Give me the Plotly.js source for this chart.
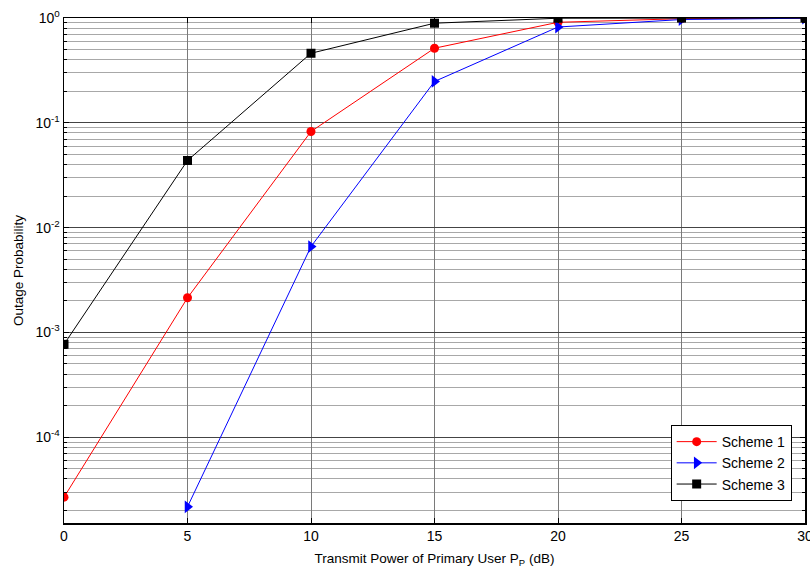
<!DOCTYPE html>
<html>
<head>
<meta charset="utf-8">
<script src="https://cdn.plot.ly/plotly-3.0.1.min.js"></script>
<style>html,body{margin:0;padding:0;background:#fff;}#chart{width:810px;height:574px;}</style>
</head>
<body>
<div id="chart"></div>
<script>
const xPower = [0, 5, 10, 15, 20, 25, 30];
const scheme1 = [2.68e-5, 2.14e-3, 0.0826, 0.515, 0.91, 0.985, 0.998];
const scheme2 = [null, 2.17e-5, 6.6e-3, 0.248, 0.82, 0.967, 0.995];
const scheme3 = [7.7e-4, 0.0437, 0.461, 0.892, 0.995, 0.999, 1.0];
const seriesNames = ['Scheme 1', 'Scheme 2', 'Scheme 3'];
const xTicks = [0, 5, 10, 15, 20, 25, 30];
const yDecades = [-5, -4, -3, -2, -1, 0];

const majorVals = yDecades.map(d => Math.pow(10, d));
const majorText = yDecades.map(d => '10<sup>' + d + '</sup>');
const minorVals = [];
yDecades.forEach(d => { for (let m = 2; m <= 9; m++) minorVals.push(m * Math.pow(10, d)); });

const fam = 'Liberation Sans, Arial, sans-serif';
const titleFont = {family: fam, size: 13.5, color: '#000'};
const tickFont = {family: fam, size: 14, color: '#000'};

const traces = [
  {x: xPower, y: scheme1, name: seriesNames[0], mode: 'lines+markers',
   line: {color: '#ff0000', width: 1}, marker: {symbol: 'circle', size: 9, color: '#ff0000'}},
  {x: xPower, y: scheme2, name: seriesNames[1], mode: 'lines+markers',
   line: {color: '#0000ff', width: 1}, marker: {symbol: 'triangle-right', size: 11, color: '#0000ff'}},
  {x: xPower, y: scheme3, name: seriesNames[2], mode: 'lines+markers',
   line: {color: '#000000', width: 1}, marker: {symbol: 'square', size: 9, color: '#000000'}}
];

const layout = {
  width: 810, height: 574,
  margin: {l: 64, r: 5, t: 17.5, b: 51.3, pad: 0},
  paper_bgcolor: '#fff', plot_bgcolor: '#fff',
  font: titleFont,
  showlegend: true,
  legend: {x: 0.982, y: 0.0435, xanchor: 'right', yanchor: 'bottom',
    bgcolor: '#fff', bordercolor: '#000', borderwidth: 1,
    font: {family: fam, size: 14, color: '#000'},
    tracegroupgap: 0, itemwidth: 40},
  xaxis: {
    range: [0, 30], tickvals: xTicks, ticktext: xTicks.map(String),
    showline: true, linecolor: '#000', linewidth: 1.5, mirror: 'allticks',
    ticks: 'inside', ticklen: 5, tickcolor: '#000',
    showgrid: true, gridcolor: '#7a7a7a', gridwidth: 1,
    zeroline: false, ticklabeloverflow: 'allow',
    tickfont: tickFont,
    title: {text: 'Transmit Power of Primary User P<sub>P</sub> (dB)', font: titleFont, standoff: 10}
  },
  yaxis: {
    type: 'log', range: [Math.log10(1.52e-5), 0],
    tickvals: majorVals, ticktext: majorText,
    showline: true, linecolor: '#000', linewidth: 1.5, mirror: 'allticks',
    ticks: 'inside', ticklen: 5, tickcolor: '#000',
    showgrid: true, gridcolor: '#444', gridwidth: 1,
    zeroline: false, ticklabeloverflow: 'allow',
    tickfont: tickFont,
    minor: {tickvals: minorVals, ticks: 'inside', ticklen: 3, tickcolor: '#000',
      showgrid: true, gridcolor: '#a8a8a8', gridwidth: 1},
    title: {text: 'Outage Probability', font: titleFont, standoff: 8}
  }
};

Plotly.newPlot('chart', traces, layout, {displayModeBar: false, staticPlot: true});
</script>
</body>
</html>
